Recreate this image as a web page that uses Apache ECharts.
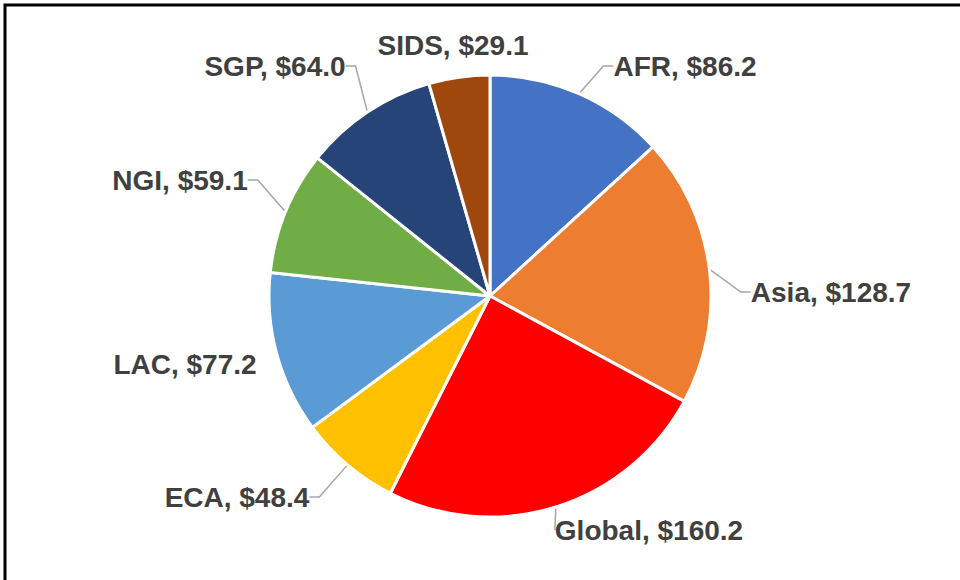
<!DOCTYPE html>
<html>
<head>
<meta charset="utf-8">
<style>
  html, body { margin: 0; padding: 0; background: #ffffff; }
  #chart { width: 960px; height: 580px; }
</style>
<script src="https://cdn.jsdelivr.net/npm/echarts@6/dist/echarts.min.js"></script>
</head>
<body>
<div id="chart"></div>
<script>
(function() {
  var regions = ['AFR', 'Asia', 'Global', 'ECA', 'LAC', 'NGI', 'SGP', 'SIDS'];
  var amounts = [86.2, 128.7, 160.2, 48.4, 77.2, 59.1, 64.0, 29.1];
  var colors = ['#4472C4', '#ED7D31', '#FF0000', '#FFC000', '#5B9BD5', '#70AD47', '#264478', '#9E480E'];

  // label centres, placed by hand like the Excel data labels
  var labelSpots = [
    [685, 66], [831, 292], [649, 530], [237, 497],
    [185, 364], [180, 180], [275, 66], [453, 45]
  ];
  // these labels sit close to their slice, so Excel draws no leader line
  var noLeader = ['LAC', 'SIDS'];

  var chart = echarts.init(document.getElementById('chart'), null, { renderer: 'svg' });

  chart.setOption({
    animation: false,
    backgroundColor: '#ffffff',
    graphic: [{
      type: 'rect',
      shape: { x: 5, y: 5, width: 1000, height: 1000 },
      style: { fill: 'none', stroke: '#000000', lineWidth: 3 },
      silent: true
    }],
    series: [{
      type: 'pie',
      center: [490, 296],
      radius: [0, 221],
      startAngle: 90,
      clockwise: true,
      avoidLabelOverlap: false,
      itemStyle: { borderColor: '#ffffff', borderWidth: 3 },
      label: {
        show: true,
        position: 'outside',
        formatter: function(p) { return p.name + ', $' + p.value.toFixed(1); },
        fontFamily: '"Liberation Sans", Arial, sans-serif',
        fontWeight: 'bold',
        fontSize: 28,
        color: '#404040'
      },
      labelLine: {
        show: true,
        length: 10,
        length2: 10,
        lineStyle: { color: '#a6a6a6', width: 1.5 }
      },
      labelLayout: function(params) {
        var spot = labelSpots[params.dataIndex];
        return { x: spot[0], y: spot[1], align: 'center', verticalAlign: 'middle' };
      },
      data: regions.map(function(name, i) {
        var item = { name: name, value: amounts[i], itemStyle: { color: colors[i] } };
        if (noLeader.indexOf(name) >= 0) item.labelLine = { show: false };
        return item;
      })
    }]
  });

  window.addEventListener('resize', function() { chart.resize(); });
})();
</script>
</body>
</html>
